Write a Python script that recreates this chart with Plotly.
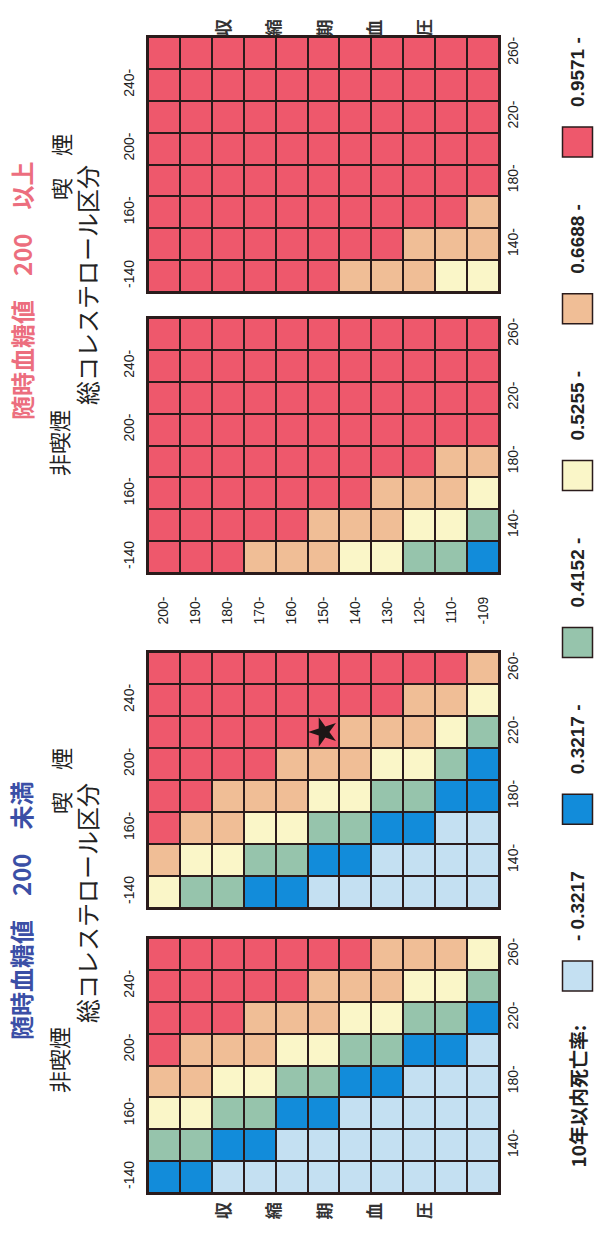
import plotly.graph_objects as go

# ---------------- data ----------------
bp_labels = ["200-", "190-", "180-", "170-", "160-", "150-", "140-", "130-", "120-", "110-", "-109"]
chol_labels = ["-140", "140-", "160-", "180-", "200-", "220-", "240-", "260-"]

class_codes = ["L", "B", "G", "Y", "O", "R"]
class_colors = ["#C4E0F2", "#128CDA", "#96C4AC", "#FAF6C8", "#F0BE96", "#EE586C"]
legend_labels = ["- 0.3217", "0.3217 -", "0.4152 -", "0.5255 -", "0.6688 -", "0.9571 -"]
legend_title = "10年以内死亡率:"

# rows: cholesterol -140 ... 260- ; columns: BP 200- ... -109
nonsmoke_low = [
    "BBLLLLLLLLL",
    "GGBBLLLLLLL",
    "YYGGBBLLLLL",
    "OOYYGGBBLLL",
    "ROOOYYGGBBL",
    "RRROOOYYGGB",
    "RRRRROOOYYG",
    "RRRRRRROOOY",
]
smoke_low = [
    "YGGBBLLLLLL",
    "OYYGGBBLLLL",
    "ROOYYGGBBLL",
    "RROOOYYGGBB",
    "RRRROOOYYGB",
    "RRRRRROOOYG",
    "RRRRRRRROOY",
    "RRRRRRRRRRO",
]
nonsmoke_high = [
    "RRROOOYYGGB",
    "RRRRROOOYYG",
    "RRRRRRROOOY",
    "RRRRRRRRROO",
    "RRRRRRRRRRR",
    "RRRRRRRRRRR",
    "RRRRRRRRRRR",
    "RRRRRRRRRRR",
]
smoke_high = [
    "RRRRRROOOYY",
    "RRRRRRRROOO",
    "RRRRRRRRRRO",
    "RRRRRRRRRRR",
    "RRRRRRRRRRR",
    "RRRRRRRRRRR",
    "RRRRRRRRRRR",
    "RRRRRRRRRRR",
]

star_point = ("150-", "220-")  # smoker, glucose < 200

group_titles = ["随時血糖値　200　未満", "随時血糖値　200　以上"]
group_colors = ["#3B4FA6", "#EC6E7E"]
nonsmoke_text = "非喫煙"
smoke_text = "喫　煙"
chol_title = "総コレステロール区分"
bp_title = "収縮期血圧"

# ---------------- layout helpers ----------------
W, H = 600, 1233
def px(x):
    return x / W
def py(y):
    return 1 - y / H

GRID = "#2a1b1b"
NUMFAMILY = "Liberation Sans, Arial, sans-serif"
TICKFONT = dict(family=NUMFAMILY, size=14, color="#222222")
JP = "Noto Sans CJK JP, sans-serif"

X0, X1 = 148, 499
panels = [
    (nonsmoke_low, 938, 1193),
    (smoke_low, 652, 908),
    (nonsmoke_high, 318, 573),
    (smoke_high, 37, 292),
]

n_cls = len(class_codes)
colorscale = []
for k, c in enumerate(class_colors):
    colorscale.append([k / n_cls, c])
    colorscale.append([(k + 1) / n_cls, c])

fig = go.Figure()
layout = dict(
    width=W, height=H, margin=dict(l=0, r=0, t=0, b=0),
    paper_bgcolor="white", plot_bgcolor="white", showlegend=False,
)
shapes = []
annotations = []

nx, ny = len(bp_labels), len(chol_labels)
for i, (grid, ytop, ybot) in enumerate(panels):
    n = i + 1
    xa = "x" if n == 1 else f"x{n}"
    ya = "y" if n == 1 else f"y{n}"
    z = [[class_codes.index(ch) for ch in row] for row in grid]
    fig.add_trace(go.Heatmap(
        z=z, x=list(range(nx)), y=list(range(ny)),
        colorscale=colorscale, zmin=-0.5, zmax=n_cls - 0.5, showscale=False,
        xgap=2, ygap=2, xaxis=xa, yaxis=ya, hoverinfo="skip",
    ))
    # invisible helper so the right-hand axis is drawn
    fig.add_trace(go.Scatter(x=[0], y=[0], xaxis=xa, yaxis=f"y{n + 4}", mode="markers",
                             marker=dict(opacity=0), hoverinfo="skip"))
    xkey = "xaxis" if n == 1 else f"xaxis{n}"
    ykey = "yaxis" if n == 1 else f"yaxis{n}"
    show_bp = (n == 3)
    layout[xkey] = dict(
        domain=[px(X0), px(X1)], range=[-0.5, nx - 0.5], anchor=ya,
        showgrid=False, zeroline=False, showline=True, linecolor=GRID, linewidth=2, mirror=True,
        ticks="", showticklabels=show_bp, tickmode="array",
        tickvals=list(range(nx)), ticktext=bp_labels, tickangle=-90, tickfont=TICKFONT,
        ticklabelstandoff=16, side="bottom",
    )
    layout[ykey] = dict(
        domain=[py(ybot), py(ytop)], range=[-0.5, ny - 0.5], anchor=xa,
        showgrid=False, zeroline=False, showline=True, linecolor=GRID, linewidth=2, mirror=True,
        ticks="", tickmode="array", tickvals=list(range(0, ny, 2)),
        ticktext=chol_labels[0::2], tickangle=-90, tickfont=TICKFONT, side="left",
        ticklabelstandoff=6,
    )
    rk = f"yaxis{n + 4}"
    layout[rk] = dict(
        overlaying=ya, anchor=xa, side="right", range=[-0.5, ny - 0.5],
        showgrid=False, zeroline=False, showline=False, ticks="",
        tickmode="array", tickvals=list(range(1, ny, 2)), ticktext=chol_labels[1::2],
        tickangle=-90, tickfont=TICKFONT, ticklabelstandoff=4,
    )
    shapes.append(dict(type="rect", xref=f"{xa} domain", yref=f"{ya} domain",
                       x0=0, x1=1, y0=0, y1=1, fillcolor=GRID, line=dict(width=0), layer="below"))

# star marker
fig.add_trace(go.Scatter(
    x=[bp_labels.index(star_point[0])], y=[chol_labels.index(star_point[1])],
    xaxis="x2", yaxis="y2", mode="markers",
    marker=dict(symbol="star", size=22, color="#1c1616", angle=-90, line=dict(width=0)),
    hoverinfo="skip",
))

# legend column
LEG_A, LEG_B = -1.5405, 5.851
unit_px = H / (LEG_B - LEG_A)
fig.add_trace(go.Scatter(
    x=[0.625] * n_cls, y=list(range(n_cls)), xaxis="x9", yaxis="y9", mode="markers",
    marker=dict(symbol="square", size=30, color=class_colors, line=dict(width=1.5, color=GRID)),
    hoverinfo="skip",
))
layout["xaxis9"] = dict(domain=[0.9, 1.0], range=[0, 1], visible=False, anchor="y9")
layout["yaxis9"] = dict(domain=[0, 1], range=[LEG_A, LEG_B], visible=False, anchor="x9")
LEGFONT = dict(family=NUMFAMILY, size=19, color="#222222", weight="bold")
for k, lab in enumerate(legend_labels):
    annotations.append(dict(
        xref="x9", yref="y9", x=0.625, y=k + (15.5 + 17) / unit_px, text=lab, showarrow=False,
        textangle=-90, xanchor="center", yanchor="bottom", font=LEGFONT,
    ))
annotations.append(dict(
    xref="x9", yref="y9", x=0.625, y=-(15.5 + 31) / unit_px, text=legend_title, showarrow=False,
    textangle=-90, xanchor="center", yanchor="top",
    font=dict(family=JP, size=19, color="#222222", weight="bold"),
))

# group texts
group_geom = [
    dict(title_y=911, non_y=1060, smk_y=781, chol_y=903),
    dict(title_y=291, non_y=443, smk_y=167, chol_y=285),
]
def paper_text(x, y, text, font):
    return dict(xref="paper", yref="paper", x=px(x), y=py(y), text=text, showarrow=False,
                textangle=-90, xanchor="center", yanchor="middle", font=font)

for g, geo in enumerate(group_geom):
    annotations.append(paper_text(21, geo["title_y"], group_titles[g],
                                  dict(family=JP, size=24, color=group_colors[g], weight="bold")))
    annotations.append(paper_text(58, geo["non_y"], nonsmoke_text,
                                  dict(family=JP, size=22, color="#222222")))
    annotations.append(paper_text(60, geo["smk_y"], smoke_text,
                                  dict(family=JP, size=22, color="#222222")))
    annotations.append(paper_text(86, geo["chol_y"], chol_title,
                                  dict(family=JP, size=24, color="#222222")))

# 収縮期血圧 (both outer sides)
for yy in (1211, 28):
    for j, ch in enumerate(bp_title):
        annotations.append(paper_text(222 + 50.25 * j, yy, ch,
                                      dict(family=JP, size=17, color="#333333", weight="bold")))

layout["shapes"] = shapes
layout["annotations"] = annotations
fig.update_layout(**layout)
fig.write_html("out.html", config={"displayModeBar": False},
               post_script="document.body.style.margin='0';document.body.style.overflow='hidden';")
